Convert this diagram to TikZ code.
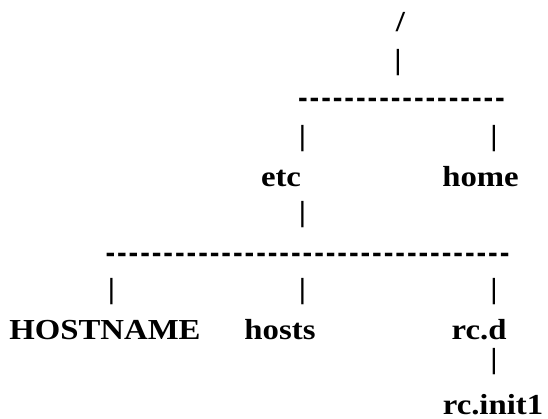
\documentclass[tikz,border=0pt]{standalone}
\usepackage{fontspec}
\newfontfamily\tf{Liberation Serif}[FakeStretch=1.13]
\newfontfamily\dashfont{Liberation Sans}
\newcommand\hy{-\kern1.94pt}
\tikzset{
  lbl/.style={inner sep=0pt, outer sep=0pt, anchor=base, font=\tf\bfseries\fontsize{29}{29}\selectfont},
  bar/.style={inner sep=0pt, outer sep=0pt, anchor=center, font=\tf\bfseries\fontsize{29}{29}\selectfont},
  dashrow/.style={inner sep=0pt, outer sep=0pt, anchor=base, font=\dashfont\bfseries\fontsize{29}{29}\selectfont},
}
\begin{document}
\begin{tikzpicture}[x=1pt,y=-1pt]
\useasboundingbox[fill=white] (0,0) rectangle (548,419);
\node[lbl] (root) at (400.5,32) {/};
\node[bar] (p0) at (398,62.5) {|};
\node[dashrow] (top) at (401.5,107.6) {\hy\hy\hy\hy\hy\hy\hy\hy\hy\hy\hy\hy\hy\hy\hy\hy\hy-};
\node[bar] (p1) at (302.5,139) {|};
\node[bar] (p2) at (494,139) {|};
\node[lbl] (etc) at (281,186.5) {etc};
\node[lbl] (home) at (480.5,187) {home};
\node[bar] (p3) at (302.5,215) {|};
\node[dashrow] (long) at (307.5,262.1) {\hy\hy\hy\hy\hy\hy\hy\hy\hy\hy\hy\hy\hy\hy\hy\hy\hy\hy\hy\hy\hy\hy\hy\hy\hy\hy\hy\hy\hy\hy\hy\hy\hy\hy-};
\node[bar] (p4) at (111.5,292) {|};
\node[bar] (p5) at (302.5,292) {|};
\node[bar] (p6) at (494,292) {|};
\node[lbl] (host) at (105,339.3) {HOSTNAME};
\node[lbl] (hosts) at (280,339.3) {hosts};
\node[lbl] (rcd) at (479,339.3) {rc.d};
\node[bar] (p7) at (494,362) {|};
\node[lbl] (rcinit) at (493,414) {rc.init1};
\end{tikzpicture}
\end{document}
